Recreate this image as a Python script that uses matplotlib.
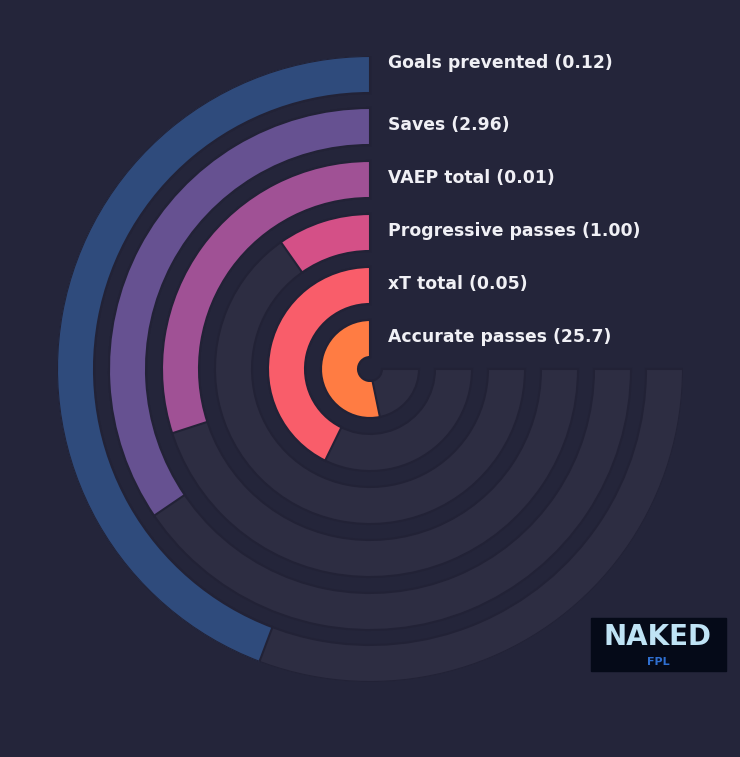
import numpy as np
import matplotlib
matplotlib.use('Agg')
import matplotlib.pyplot as plt

labels = ["Goals prevented (0.12)", "Saves (2.96)", "VAEP total (0.01)",
          "Progressive passes (1.00)", "xT total (0.05)", "Accurate passes (25.7)"]
# share of the full 270 degree track
fractions = [0.59, 0.46, 0.40, 0.13, 0.57, 0.71]
colors = ["#2f4b7c", "#665191", "#a05195", "#d45087", "#f95d6a", "#ff7c43"]

bg = "#24253a"
track = "#2d2d42"
W, H = 740, 757
cx, cy, R = 370, 369, 313
outer = [313, 261, 208, 155, 102, 49]
ring_w = 37
max_angle = 1.5 * np.pi

fig = plt.figure(figsize=(W / 100, H / 100), dpi=100, facecolor=bg)
ax = fig.add_axes([(cx - R) / W, (H - cy - R) / H, 2 * R / W, 2 * R / H],
                  projection='polar')
ax.set_facecolor(bg)
ax.set_theta_zero_location('N')
ax.set_theta_direction(1)
ax.set_ylim(0, R)
ax.axis('off')

for r, frac, c in zip(outer, fractions, colors):
    mid = r - ring_w / 2
    ax.barh(mid, max_angle, left=0, height=ring_w, color=track,
            edgecolor="#222236", linewidth=1.5)
    ax.barh(mid, frac * max_angle, left=0, height=ring_w, color=c,
            edgecolor="#222236", linewidth=1.5)

label_y = [63, 125, 178, 231, 284, 337]
for lab, y in zip(labels, label_y):
    fig.text(388 / W, 1 - y / H, lab, color="#f0f0f5", fontsize=12.4,
             fontweight='bold', va='center', ha='left')

# logo block
fig.patches.append(plt.Rectangle((591 / W, 1 - 671 / H), 135 / W, 53 / H,
                                 transform=fig.transFigure, color="#050a18"))
fig.text(658 / W, 1 - 637 / H, "NAKED", color="#bfe3f5", fontsize=20,
         fontweight='bold', ha='center', va='center')
fig.text(658 / W, 1 - 662 / H, "FPL", color="#2f6fd0", fontsize=8,
         fontweight='bold', ha='center', va='center')

fig.savefig("out.png", dpi=100, facecolor=bg)
